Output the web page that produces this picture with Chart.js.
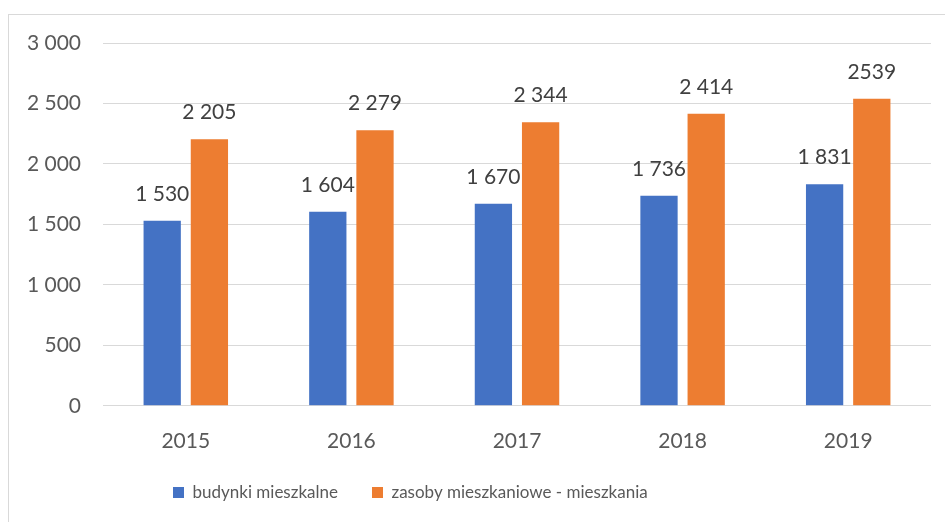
<!DOCTYPE html>
<html>
<head>
<meta charset="utf-8">
<script src="https://cdn.jsdelivr.net/npm/chart.js@4.4.1/dist/chart.umd.min.js"></script>
<style>
    html, body { margin: 0; padding: 0; background: #fff; overflow: hidden; }
    #frame {
        position: absolute; left: 8px; top: 14px; width: 960px; height: 540px;
        border: 1px solid #d9d9d9; pointer-events: none;
    }
    #chart { position: absolute; left: 0; top: 0; }
</style>
</head>
<body>
<div id="frame"></div>
<canvas id="chart" width="945" height="522"></canvas>
<script>
// Chart data
const years = ['2015', '2016', '2017', '2018', '2019'];
const budynki = [1530, 1604, 1670, 1736, 1831];
const zasoby = [2205, 2279, 2344, 2414, 2539];
// labels as printed in the source (last one has no separator)
const budynkiLabels = ['1 530', '1 604', '1 670', '1 736', '1 831'];
const zasobyLabels = ['2 205', '2 279', '2 344', '2 414', '2539'];
const yTicks = [0, 500, 1000, 1500, 2000, 2500, 3000];

const FONT = 'Lato, "Open Sans", sans-serif';
const TEXT = '#595959';

function fmtThousands(v) {
    if (v < 1000) return String(v);
    return Math.floor(v / 1000) + ' ' + String(v % 1000).padStart(3, '0');
}

// draw value labels above bars
const barLabels = {
    id: 'barLabels',
    afterDatasetsDraw(chart) {
        const ctx = chart.ctx;
        ctx.save();
        ctx.font = '21px ' + FONT;
        ctx.fillStyle = '#404040';
        ctx.textAlign = 'center';
        ctx.textBaseline = 'middle';
        chart.data.datasets.forEach((ds, i) => {
            const meta = chart.getDatasetMeta(i);
            meta.data.forEach((bar, j) => {
                ctx.fillText(ds.valueLabels[j], bar.x, bar.y - 27);
            });
        });
        ctx.restore();
    }
};

// place legend like the original (left of centre, near the bottom)
const legendPlace = {
    id: 'legendPlace',
    beforeDraw(chart) {
        const lg = chart.legend;
        if (!lg) return;
        const pad = lg.options.labels.padding;
        lg.left = 173 - pad;
        lg.top = 494 - pad - 10;
    }
};

new Chart(document.getElementById('chart'), {
    type: 'bar',
    data: {
        labels: years,
        datasets: [
            {
                label: 'budynki mieszkalne',
                data: budynki,
                valueLabels: budynkiLabels,
                backgroundColor: '#4472c4'
            },
            {
                label: 'zasoby mieszkaniowe - mieszkania',
                data: zasoby,
                valueLabels: zasobyLabels,
                backgroundColor: '#ed7d31'
            }
        ]
    },
    options: {
        responsive: false,
        animation: false,
        layout: { padding: { left: 0, right: 14, top: 43, bottom: -8 } },
        datasets: {
            bar: { categoryPercentage: 0.57, barPercentage: 0.79 }
        },
        plugins: {
            legend: {
                position: 'bottom',
                align: 'start',
                labels: {
                    boxWidth: 11,
                    boxHeight: 11,
                    padding: 34,
                    color: TEXT,
                    font: { family: FONT, size: 17 }
                }
            },
            tooltip: { enabled: false }
        },
        scales: {
            x: {
                grid: { display: false },
                border: { display: false },
                ticks: { color: TEXT, padding: 15, font: { family: FONT, size: 21 } }
            },
            y: {
                min: 0,
                max: 3000,
                afterBuildTicks: (s) => { s.ticks = yTicks.map(v => ({ value: v })); },
                grid: { color: '#d9d9d9', lineWidth: 1, drawTicks: false },
                border: { display: false },
                ticks: {
                    color: TEXT,
                    padding: 22,
                    font: { family: FONT, size: 21 },
                    callback: (v) => fmtThousands(v)
                },
                afterFit: (s) => { s.width = 103; }
            }
        }
    },
    plugins: [barLabels, legendPlace]
});
</script>
</body>
</html>
